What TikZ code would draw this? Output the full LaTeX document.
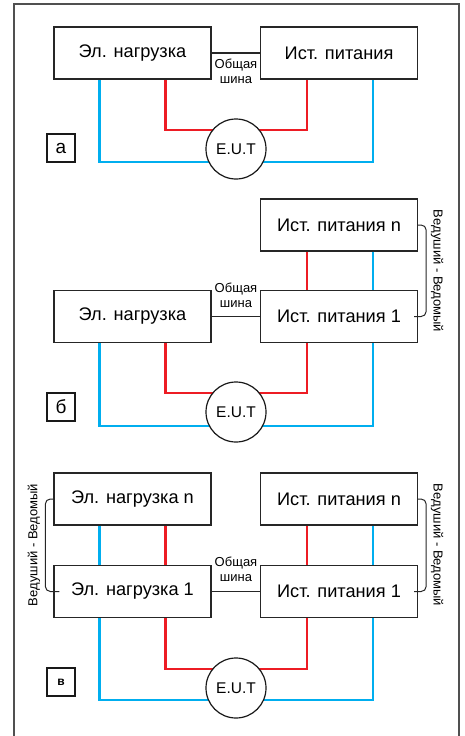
\documentclass[tikz,border=0pt]{standalone}
\usepackage{fontspec}
\setmainfont{Liberation Sans}
\usetikzlibrary{backgrounds}
\definecolor{redw}{RGB}{237,28,36}
\definecolor{bluew}{RGB}{0,174,239}
\definecolor{framec}{RGB}{80,80,80}
\begin{document}
\begin{tikzpicture}[x=1pt,y=-1pt,
 unit/.style={draw=black!85, line width=1.3pt, minimum width=157pt, minimum height=52pt, inner sep=0pt, font=\fontsize{18.2}{21}\selectfont},
 eut/.style={circle, draw=black!90, line width=1.2pt, fill=white, minimum size=60pt, inner sep=0pt, font=\fontsize{15.5}{18}\selectfont},
 tag/.style={draw=black!90, line width=1.2pt, minimum size=28pt, inner sep=0pt, font=\fontsize{19}{22}\selectfont},
 rline/.style={draw=redw, line width=2.6pt},
 bline/.style={draw=bluew, line width=2.6pt},
 bus/.style={draw=black!85, line width=1.2pt},
 buslabel/.style={align=center, font=\fontsize{13}{15}\selectfont, inner sep=0pt},
 brace/.style={draw=black!85, line width=1pt, rounded corners=5pt},
 mslabel/.style={font=\fontsize{13}{15}\selectfont, inner sep=0pt}
]
\path[use as bounding box] (0,0) rectangle (464,736);
\clip (0,0) rectangle (464,736);
\draw[framec, line width=2pt] (14,4) rectangle (458.5,760);

% ---------- a ----------
\node[unit] (aL) at (132.5,53) {Эл. нагрузка};
\node[unit] (aS) at (339,53) {Ист. питания};
\node[eut] (aE) at (236,149) {E.U.T};
\node[tag] (aT) at (61,148) {а};
\draw[bus] (aL.east) -- (aS.west);
\node[buslabel] (aB) at (236,71) {Общая\\шина};
\begin{scope}[on background layer]
\draw[rline] ([xshift=-46pt]aL.south east) |- ([yshift=19pt]aE.center) -| ([xshift=47pt]aS.south west);
\draw[bline] ([xshift=46pt]aL.south west) |- ([yshift=-13pt]aE.center) -| ([xshift=-45pt]aS.south east);
\end{scope}

% ---------- б ----------
\node[unit] (bSn) at (339,225) {Ист. питания n};
\node[unit] (bL) at (132.5,316.5) {Эл. нагрузка};
\node[unit] (bS) at (339,316.5) {Ист. питания 1};
\node[eut] (bE) at (236,412) {E.U.T};
\node[tag] (bT) at (61,407) {б};
\draw[bus] (bL.east) -- (bS.west);
\node[buslabel] (bB) at (236,295) {Общая\\шина};
\draw[rline] ([xshift=47pt]bSn.south west) -- ([xshift=47pt]bS.north west);
\draw[bline] ([xshift=-45pt]bSn.south east) -- ([xshift=-45pt]bS.north east);
\begin{scope}[on background layer]
\draw[rline] ([xshift=-46pt]bL.south east) |- ([yshift=19pt]bE.center) -| ([xshift=47pt]bS.south west);
\draw[bline] ([xshift=46pt]bL.south west) |- ([yshift=-14pt]bE.center) -| ([xshift=-45pt]bS.south east);
\end{scope}
\draw[brace] (bSn.east) -- ++(8,0) |- ([xshift=-4pt]bS.east);
\node[mslabel, rotate=-90] (bM) at (437,271) {Ведуший - Ведомый};

% ---------- в ----------
\node[unit] (cLn) at (132.5,499) {Эл. нагрузка n};
\node[unit] (cSn) at (339,499) {Ист. питания n};
\node[unit] (cL) at (132.5,591.5) {Эл. нагрузка 1};
\node[unit] (cS) at (339,591.5) {Ист. питания 1};
\node[eut] (cE) at (236,688) {E.U.T};
\node[tag, font=\fontsize{12}{14}\selectfont\bfseries] (cT) at (61,682) {в};
\draw[bus] (cL.east) -- (cS.west);
\node[buslabel] (cB) at (236,569) {Общая\\шина};
\draw[bline] ([xshift=46pt]cLn.south west) -- ([xshift=46pt]cL.north west);
\draw[rline] ([xshift=-46pt]cLn.south east) -- ([xshift=-46pt]cL.north east);
\draw[rline] ([xshift=47pt]cSn.south west) -- ([xshift=47pt]cS.north west);
\draw[bline] ([xshift=-45pt]cSn.south east) -- ([xshift=-45pt]cS.north east);
\begin{scope}[on background layer]
\draw[rline] ([xshift=-46pt]cL.south east) |- ([yshift=19pt]cE.center) -| ([xshift=47pt]cS.south west);
\draw[bline] ([xshift=46pt]cL.south west) |- ([yshift=-12pt]cE.center) -| ([xshift=-45pt]cS.south east);
\end{scope}
\draw[brace] (cSn.east) -- ++(8,0) |- ([xshift=-4pt]cS.east);
\node[mslabel, rotate=-90] (cM) at (437,545) {Ведуший - Ведомый};
\draw[brace] (cLn.west) -- ++(-8,0) |- ([xshift=6pt]cL.west);
\node[mslabel, rotate=90] (cM2) at (34,545) {Ведуший - Ведомый};
\end{tikzpicture}
\end{document}
